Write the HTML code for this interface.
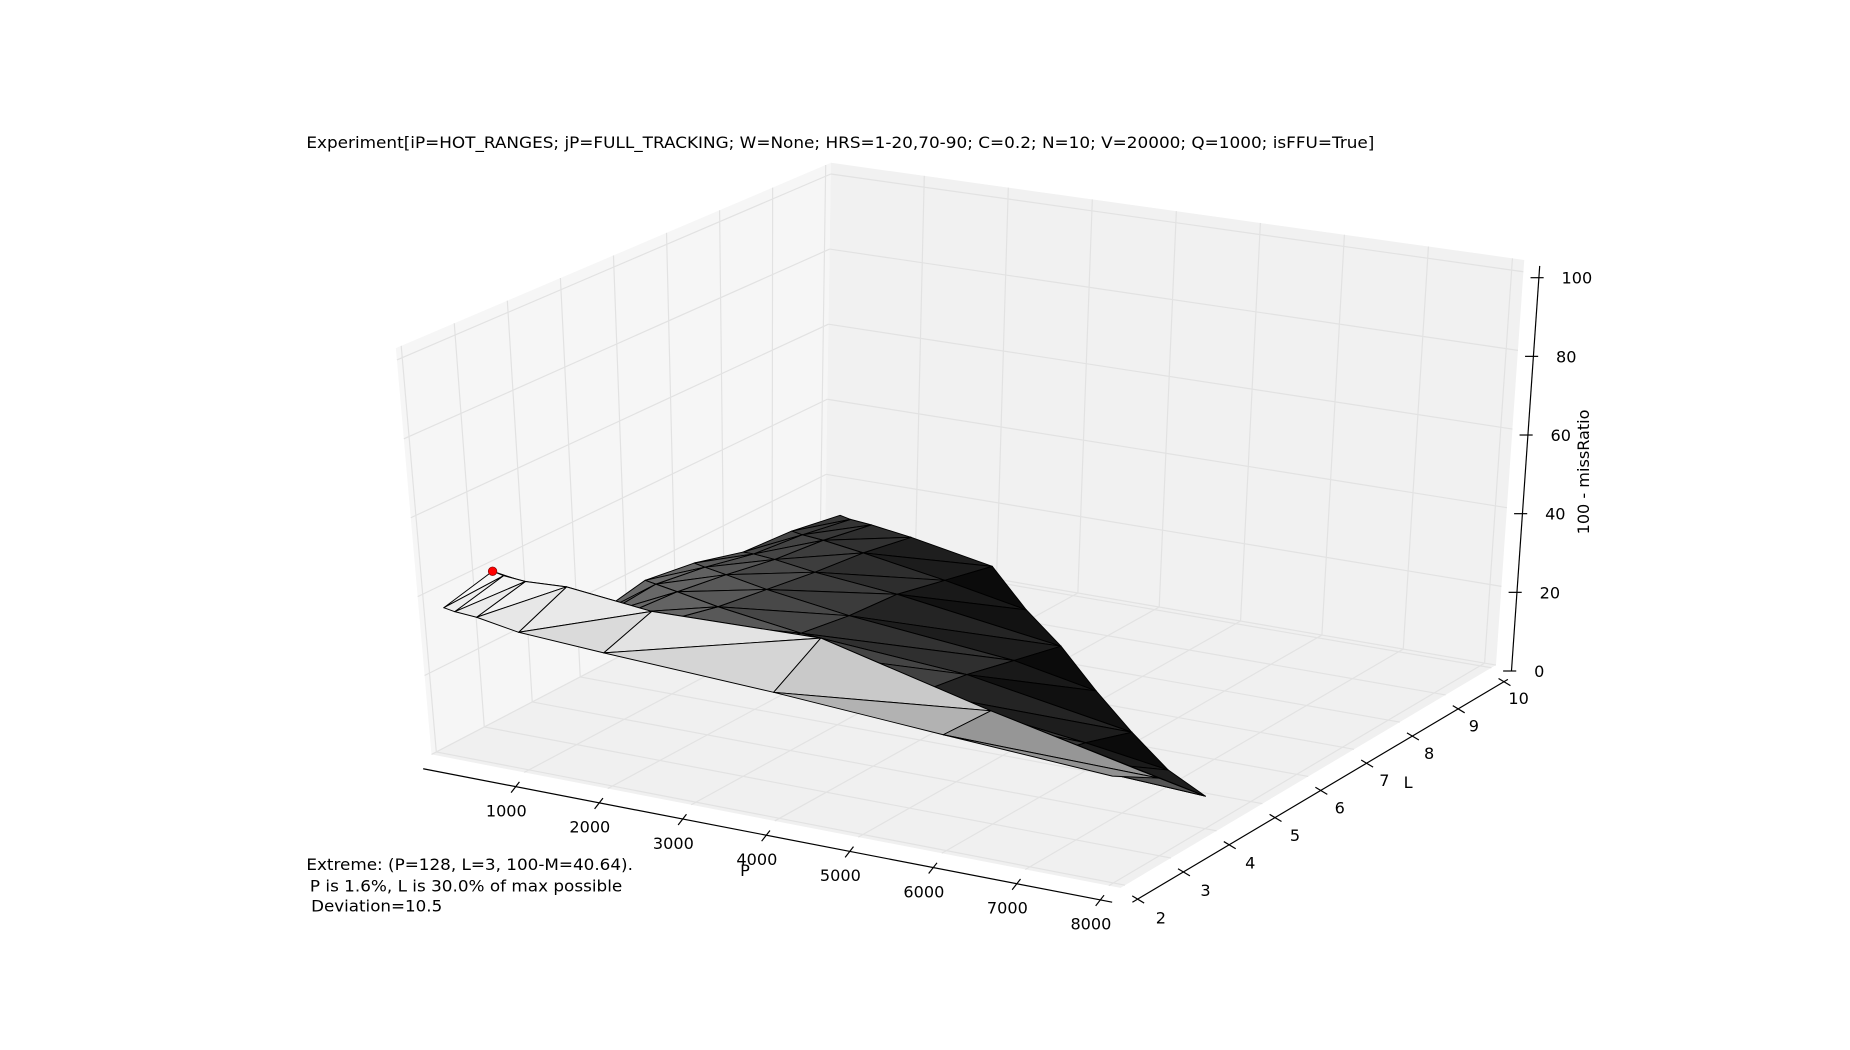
<!DOCTYPE html>
<html><head><meta charset="utf-8"><title>3D surface</title>
<style>html,body{margin:0;padding:0;background:#fff}svg{display:block}text{font-family:"DejaVu Sans","Liberation Sans",sans-serif;fill:#000}</style>
</head><body>
<svg id="chart" xmlns="http://www.w3.org/2000/svg" width="1850" height="1050" viewBox="0 0 1552 881" preserveAspectRatio="none">
<rect x="0" y="0" width="1552" height="881" fill="#fff"/>
<g id="panes"></g>
<g id="grid"></g>
<g id="surface"></g>
<g id="axes"></g>
<text x="257" y="124" font-size="13.5" textLength="896" lengthAdjust="spacingAndGlyphs">Experiment[iP=HOT_RANGES; jP=FULL_TRACKING; W=None; HRS=1-20,70-90; C=0.2; N=10; V=20000; Q=1000; isFFU=True]</text>
<text x="257" y="730" font-size="13.5" textLength="274" lengthAdjust="spacingAndGlyphs">Extreme: (P=128, L=3, 100-M=40.64).</text>
<text x="260" y="748" font-size="13.5" textLength="262" lengthAdjust="spacingAndGlyphs">P is 1.6%, L is 30.0% of max possible</text>
<text x="261" y="765" font-size="13.5" textLength="110" lengthAdjust="spacingAndGlyphs">Deviation=10.5</text>
</svg>
<script>
// ---- data ----
const pValues = [128, 256, 512, 1000, 2000, 4000, 6000, 8000];
const lValues = [2, 3, 4, 5, 6, 7, 8, 9, 10];
const pEndByL = [8000, 8000, 8000, 7000, 6000, 5000, 4000, 3000, 2000];
const zL2  = [37.5, 37, 36.6, 34.7, 33.4, 31.3, 28.5, 26];
const zL3  = [40.64, 40, 39.5, 40, 37.6, 38.5, 28, 19];
const zL4  = [30, 26, 24, 22, 20, 17, 10, 8];
const zL5  = [17, 18, 19, 19, 16, 12, 7, 4];
const zL6  = [19.5, 19, 18, 16, 13, 10, 3];
const zL7  = [17.6, 17, 16, 14, 11, 7, 3];
const zL8  = [14, 14, 13.5, 12, 10, 4];
const zL9  = [13, 12.5, 12, 10.5, 7, 3];
const zL10 = [10.6, 10, 9.5, 8, 4];
const zRows = [zL2, zL3, zL4, zL5, zL6, zL7, zL8, zL9, zL10];
const extremeP = 128, extremeL = 3, extremeZ = 40.64;
const pTicks = [1000, 2000, 3000, 4000, 5000, 6000, 7000, 8000];
const lTicks = [2, 3, 4, 5, 6, 7, 8, 9, 10];
const zTicks = [0, 20, 40, 60, 80, 100];

// ---- projection ----
const P0 = -110, P1 = 8140, L0 = 1.9, L1 = 10.1, ZTOP = 103;
const F = {A:[362,633], B:[940,745], C:[1255,558], D:[692,461]};
const T = {A:[333,302], B:[937,400], C:[1278,228], D:[697,146]};
function bil(Q,u,v,k){return Q.A[k]*(1-u)*(1-v)+Q.B[k]*u*(1-v)+Q.C[k]*u*v+Q.D[k]*(1-u)*v;}
function uvz(P,L){return [(P-P0)/(P1-P0),(L-L0)/(L1-L0)];}
function projUV(u,v,z){const s=z/100;return [0,1].map(k=>{const f=bil(F,u,v,k),t=bil(T,u,v,k);return f+(t-f)*s;});}
function proj(P,L,z){const [u,v]=uvz(P,L);return projUV(u,v,z);}
const NS="http://www.w3.org/2000/svg";
function mk(tag,attrs,parent){const e=document.createElementNS(NS,tag);for(const k in attrs)e.setAttribute(k,attrs[k]);parent.appendChild(e);return e;}
const pts=a=>a.map(p=>p[0].toFixed(1)+","+p[1].toFixed(1)).join(" ");

// ---- panes ----
const panes=document.getElementById('panes');
let e;
e=mk('polygon',{points:pts([projUV(0,0,0),projUV(1,0,0),projUV(1,1,0),projUV(0,1,0)]),fill:'#f0f0f0'},panes);


e=mk('polygon',{points:pts([projUV(0,0,0),projUV(0,1,0),projUV(0,1,ZTOP),projUV(0,0,ZTOP)]),fill:'#f6f6f6'},panes);


e=mk('polygon',{points:pts([projUV(0,1,0),projUV(1,1,0),projUV(1,1,ZTOP),projUV(0,1,ZTOP)]),fill:'#f1f1f1'},panes);



// ---- grid ----
const grid=document.getElementById('grid');
function gl(a,b,name){const l=mk('line',{x1:a[0],y1:a[1],x2:b[0],y2:b[1],stroke:'#e2e2e2','stroke-width':1},grid);}
pTicks.forEach(p=>{const u=uvz(p,2)[0];gl(projUV(u,0,0),projUV(u,1,0),'floor-grid-p');gl(projUV(u,1,0),projUV(u,1,ZTOP),'back-grid-p');});
lTicks.forEach(L=>{const v=uvz(0,L)[1];gl(projUV(0,v,0),projUV(1,v,0),'floor-grid-l');gl(projUV(0,v,0),projUV(0,v,ZTOP),'left-grid-l');});
zTicks.forEach(z=>{gl(projUV(0,0,z),projUV(0,1,z),'left-grid-z');gl(projUV(0,1,z),projUV(1,1,z),'back-grid-z');});

// ---- surface ----
const surf=document.getElementById('surface');
const rows=zRows.map((zr,j)=>{
  const ps=pValues.filter(p=>p<pEndByL[j]).concat([pEndByL[j]]);
  return ps.slice(0,zr.length).map((p,i)=>[p,lValues[j],zr[i]]);
});
let zmin=Infinity,zmax=-Infinity;
zRows.forEach(r=>r.forEach(z=>{zmin=Math.min(zmin,z);zmax=Math.max(zmax,z);}));
const tris=[];
for(let j=0;j<rows.length-1;j++){
  const a=rows[j],b=rows[j+1];let i=0,k=0;
  while(i<a.length-1||k<b.length-1){
    if(i>=a.length-1){tris.push([a[i],b[k],b[k+1]]);k++;}
    else if(k>=b.length-1){tris.push([a[i],a[i+1],b[k]]);i++;}
    else if(a[i+1][0]===b[k+1][0]){tris.push([a[i],a[i+1],b[k+1]]);tris.push([a[i],b[k+1],b[k]]);i++;k++;}
    else if(a[i+1][0]<b[k+1][0]){tris.push([a[i],a[i+1],b[k]]);i++;}
    else{tris.push([a[i],b[k],b[k+1]]);k++;}
  }
}
const items=tris.map(P=>{
  const zavg=(P[0][2]+P[1][2]+P[2][2])/3;
  let du=0,dv=0;P.forEach(p=>{const [u,v]=uvz(p[0],p[1]);du+=u/3;dv+=v/3;});
  return {P,zavg,depth:du*0.45+(1-dv)*0.8+zavg/100*0.35};
});
items.sort((a,b)=>a.depth-b.depth);
items.forEach(it=>{
  let g=(it.zavg-zmin)/(zmax-zmin);g=Math.max(0,Math.min(1,g));
  const c=Math.round(g*255);
  const poly=mk('polygon',{points:pts(it.P.map(p=>proj(p[0],p[1],p[2]))),fill:`rgb(${c},${c},${c})`,stroke:'#000','stroke-width':0.8,'stroke-linejoin':'round'},surf);
  
  
});
const ep=proj(extremeP,extremeL,extremeZ);
e=mk('circle',{cx:ep[0],cy:ep[1],r:3.6,fill:'#ff0000',stroke:'#800000','stroke-width':0.6},surf);



// ---- axes ----
const ax=document.getElementById('axes');
function line(a,b,name,w){const l=mk('line',{x1:a[0],y1:a[1],x2:b[0],y2:b[1],stroke:'#000','stroke-width':w||1},ax);return l;}
function txt(x,y,s,name,anchor,size){const t=mk('text',{x:x,y:y,'font-size':size||13.5,'text-anchor':anchor||'middle'},ax);t.textContent=s;return t;}
const off=(p,dx,dy)=>[p[0]+dx,p[1]+dy];
// P axis
line(off(projUV(0,0,0),-7,12),off(projUV(1,0,0),-7,12),'p-axis-line');
pTicks.forEach(p=>{const q=off(proj(p,L0,0),-7,12);line(off(q,3,-4),off(q,-4,5),'p-axis-tick');txt(q[0]-8,q[1]+25,String(p),'p-tick-label');});
const pm=off(projUV(0.5,0,0),-7,12);txt(pm[0]-19,pm[1]+34,'P','p-axis-title');
// L axis
line(off(projUV(1,0,0),10,12),off(projUV(1,1,0),10,12),'l-axis-line');
lTicks.forEach(L=>{const q=off(proj(P1,L,0),10,12);line(off(q,-4,-3),off(q,6,3),'l-axis-tick');txt(q[0]+20-(L-2)*0.9,q[1]+20-(L-2)*0.2,String(L),'l-tick-label');});
const lm=off(projUV(1,0.62,0),10,12);txt(lm[0]+36,lm[1]+20,'L','l-axis-title');
// Z axis
line(off(projUV(1,1,0),13,5),off(projUV(1,1,ZTOP),13,5),'z-axis-line');
zTicks.forEach(z=>{const q=off(projUV(1,1,z),13,5);line(off(q,-7,0),off(q,4,0),'z-axis-tick');txt(q[0]+19,q[1]+5,String(z),'z-tick-label','start');});
const zt=txt(0,0,'100 - missRatio','z-axis-title','middle',13.5);
zt.setAttribute('transform','translate(1333,396) rotate(-90)');
</script>
</body></html>
